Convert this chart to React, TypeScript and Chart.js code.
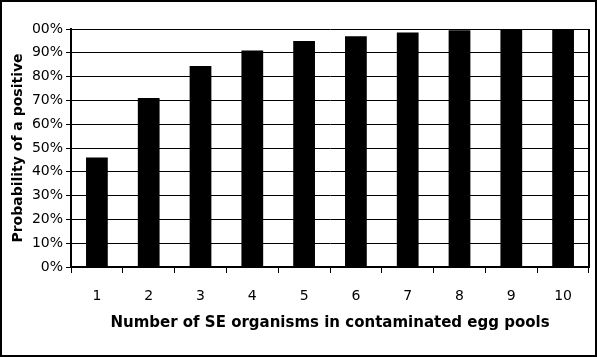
import React, { useEffect, useRef } from "react";
import { Chart, registerables } from "chart.js";

Chart.register(...registerables);

const categories = ["1", "2", "3", "4", "5", "6", "7", "8", "9", "10"];
const probabilityValues = [46, 71, 84.5, 91, 95, 97, 98.5, 99.5, 99.8, 100];
const yTickLabels = ["0%", "10%", "20%", "30%", "40%", "50%", "60%", "70%", "80%", "90%", "00%"];
const xTitle = "Number of SE organisms in contaminated egg pools";
const yTitle = "Probability of a positive";

const framePlugin = {
  id: "frame",
  afterDraw(chart: any) {
    const { ctx, chartArea, width, height } = chart;
    ctx.save();
    ctx.strokeStyle = "#000";
    ctx.lineWidth = 2;
    ctx.beginPath();
    ctx.moveTo(chartArea.right, chartArea.top);
    ctx.lineTo(chartArea.right, chartArea.bottom);
    ctx.stroke();
    ctx.strokeRect(1, 1, width - 2, height - 2);
    ctx.restore();
  },
};

export default function App() {
  const ref = useRef<HTMLCanvasElement | null>(null);
  useEffect(() => {
    document.body.style.margin = "0";
    const canvas = ref.current;
    if (!canvas) return;
    const chart = new Chart(canvas, {
      type: "bar",
      data: {
        labels: categories,
        datasets: [
          {
            data: probabilityValues,
            backgroundColor: "#000",
            borderWidth: 0,
            barPercentage: 0.42,
            categoryPercentage: 1,
          },
        ],
      },
      options: {
        responsive: false,
        animation: false,
        layout: { padding: { top: 29, right: 8, left: 0, bottom: 0 } },
        plugins: { legend: { display: false }, tooltip: { enabled: false } },
        scales: {
          x: {
            afterFit: (s: any) => {
              s.height = 90;
            },
            grid: {
              display: true,
              drawOnChartArea: false,
              drawTicks: true,
              tickLength: 6,
              color: "#000",
              lineWidth: 1,
              offset: true,
            },
            border: { display: true, color: "#000", width: 2 },
            ticks: {
              color: "#000",
              font: { family: "DejaVu Sans", size: 14 },
              padding: 15,
              maxRotation: 0,
            },
            title: {
              display: true,
              text: xTitle,
              color: "#000",
              font: { family: "DejaVu Sans", size: 15, weight: "bold" },
              padding: { top: 0, bottom: 25 },
            },
          },
          y: {
            min: 0,
            max: 100,
            afterFit: (s: any) => {
              s.width = 71;
            },
            grid: {
              color: "#000",
              lineWidth: 1,
              drawTicks: true,
              tickLength: 5,
            },
            border: { display: true, color: "#000", width: 2 },
            ticks: {
              stepSize: 10,
              color: "#000",
              font: { family: "DejaVu Sans", size: 14 },
              padding: 3,
              callback: (_v: any, i: number) => yTickLabels[i],
            },
            title: {
              display: true,
              text: yTitle,
              color: "#000",
              font: { family: "DejaVu Sans", size: 14, weight: "bold" },
              padding: { top: 10, bottom: 0 },
            },
          },
        },
      },
      plugins: [framePlugin],
    });
    return () => chart.destroy();
  }, []);
  return <canvas ref={ref} width={597} height={357} style={{ display: "block" }} />;
}
